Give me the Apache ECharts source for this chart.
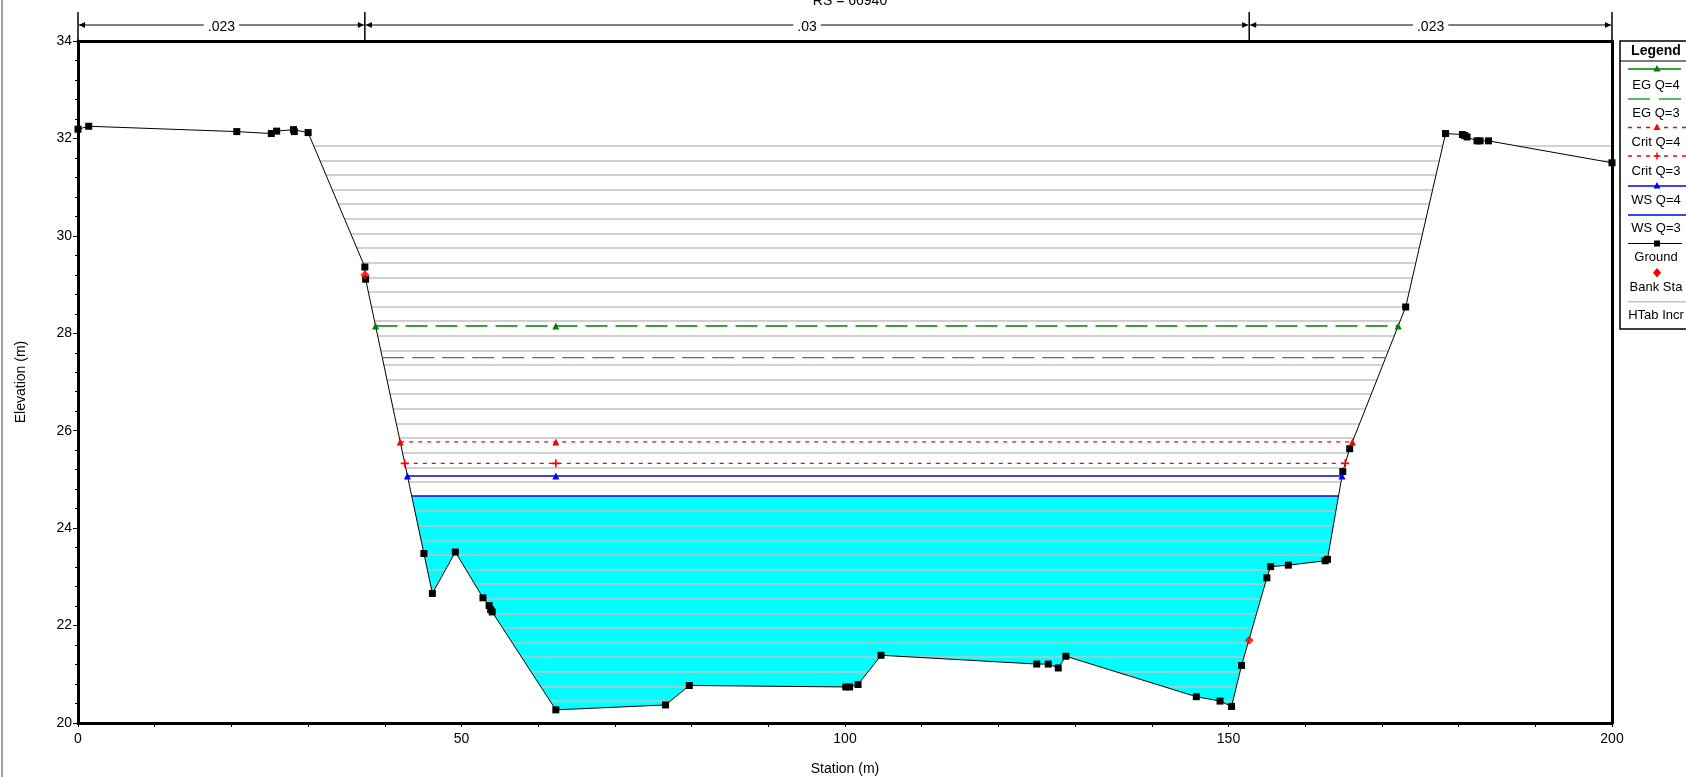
<!DOCTYPE html>
<html><head><meta charset="utf-8">
<script src="https://cdn.jsdelivr.net/npm/echarts@6/dist/echarts.min.js"></script>
<style>html,body{margin:0;padding:0;background:#fff;}#chart{width:1686px;height:777px;}</style>
</head><body><div id="chart"></div>
<script>
// ---------------- data ----------------
const groundStation = [0, 1.4, 20.7, 25.2, 25.9, 28.1, 28.2, 30.0, 37.4, 37.5, 45.1, 46.2, 49.2, 52.8, 53.6, 53.8, 54.0, 62.3, 76.6, 79.7, 100.1, 100.6, 101.7, 104.7, 125.0, 126.5, 127.8, 128.8, 145.8, 148.9, 150.4, 151.7, 155.0, 155.5, 157.8, 162.6, 162.9, 164.9, 165.8, 173.1, 178.3, 180.5, 180.8, 181.1, 182.4, 182.8, 183.9, 200];
const groundElev = [32.19, 32.25, 32.14, 32.10, 32.15, 32.18, 32.14, 32.12, 29.36, 29.11, 23.48, 22.66, 23.51, 22.57, 22.41, 22.33, 22.28, 20.27, 20.37, 20.77, 20.74, 20.74, 20.79, 21.39, 21.21, 21.21, 21.13, 21.37, 20.54, 20.45, 20.34, 21.18, 22.98, 23.21, 23.24, 23.33, 23.36, 25.16, 25.63, 28.54, 32.10, 32.08, 32.06, 32.03, 31.95, 31.95, 31.95, 31.50];
const bankStation = [37.4, 152.7];
const bankElev = [29.2, 21.7];
const nBreaks = [0, 37.4, 152.7, 200];
const nValues = ['.023', '.03', '.023'];
const profileNames = ['EG Q=4', 'EG Q=3', 'Crit Q=4', 'Crit Q=3', 'WS Q=4', 'WS Q=3'];
const profileElev = [28.15, 27.50, 25.77, 25.33, 25.07, 24.66];
const htabElev = [20.45, 20.75, 21.05, 21.35, 21.65, 21.95, 22.25, 22.55, 22.85, 23.15, 23.45, 23.75, 24.05, 24.35, 24.65, 24.95, 25.25, 25.55, 25.85, 26.15, 26.45, 26.75, 27.05, 27.35, 27.65, 27.95, 28.25, 28.55, 28.85, 29.15, 29.45, 29.75, 30.05, 30.35, 30.65, 30.95, 31.25, 31.55, 31.85];
const titleText = 'RS = 66940';
const xName = 'Station (m)';
const yName = 'Elevation (m)';
const xMin = 0, xMax = 200, xStep = 50;
const yMin = 20, yMax = 34, yStep = 2;

// ---------------- helpers ----------------
const FONT = 'Liberation Sans, Arial, sans-serif';
const nG = groundStation.length;
const imin = groundElev.indexOf(Math.min(...groundElev));
const thalwegX = groundStation[imin];
function crossings(e) {
  let xl = groundStation[0], xr = groundStation[nG - 1];
  for (let i = imin; i > 0; i--) {
    if (groundElev[i - 1] >= e) {
      const x0 = groundStation[i - 1], y0 = groundElev[i - 1], x1 = groundStation[i], y1 = groundElev[i];
      xl = x0 + (e - y0) / (y1 - y0) * (x1 - x0); break;
    }
  }
  for (let i = imin; i < nG - 1; i++) {
    if (groundElev[i + 1] >= e) {
      const x0 = groundStation[i], y0 = groundElev[i], x1 = groundStation[i + 1], y1 = groundElev[i + 1];
      xr = x0 + (e - y0) / (y1 - y0) * (x1 - x0); break;
    }
  }
  return [xl, xr];
}
const plusPath = 'path://M4,0L6,0L6,4L10,4L10,6L6,6L6,10L4,10L4,6L0,6L0,4L4,4Z';
const profStyle = {
  'EG Q=4':   { color: '#008000', type: [22, 8], width: 1.6, symbol: 'triangle' },
  'EG Q=3':   { color: '#1f9a1f', type: [22, 8], width: 1.4, symbol: 'none' },
  'Crit Q=4': { color: '#ff0000', type: [4, 5], width: 1.4, symbol: 'triangle' },
  'Crit Q=3': { color: '#ff0000', type: [4, 5], width: 1.4, symbol: plusPath },
  'WS Q=4':   { color: '#0000ff', type: 'solid', width: 1.6, symbol: 'triangle' },
  'WS Q=3':   { color: '#0000ff', type: 'solid', width: 1.6, symbol: 'none' }
};

const ground = groundStation.map((x, i) => [x, groundElev[i]]);
const wsLow = profileElev[profileNames.indexOf('WS Q=3')];
const wsLowX = crossings(wsLow);

const series = [];
// water fill (WS Q=3)
series.push({
  name: 'water', type: 'line', z: 1, silent: true, showSymbol: false, symbol: 'none',
  data: [[wsLowX[0], wsLow], [wsLowX[1], wsLow]],
  lineStyle: { width: 0 },
  areaStyle: { color: '#00ffff', opacity: 1, origin: 'start' }
});
// HTab increments
series.push({
  name: 'HTab Incr', type: 'lines', coordinateSystem: 'cartesian2d', z: 2, silent: true,
  data: htabElev.map(e => ({ coords: [[xMin, e], [xMax, e]] })),
  lineStyle: { color: '#c2c2c2', width: 1.7, opacity: 1 }
});
// ground with white mask below
series.push({
  name: 'Ground', type: 'line', z: 3, data: ground,
  symbol: 'rect', symbolSize: 7, showAllSymbol: true,
  itemStyle: { color: '#000' },
  lineStyle: { color: '#000', width: 1 },
  areaStyle: { color: '#ffffff', opacity: 1, origin: 'start' }
});
// profiles
profileNames.forEach((nm, k) => {
  const e = profileElev[k];
  const st = profStyle[nm];
  const [l, r] = crossings(e);
  const data = st.symbol === 'none' ? [[l, e], [r, e]] : [[l, e], [thalwegX, e], [r, e]];
  series.push({
    name: nm, type: 'line', z: 4, data: data,
    symbol: st.symbol, symbolSize: st.symbol === 'triangle' ? 7 : 8, showSymbol: st.symbol !== 'none',
    itemStyle: { color: st.color },
    lineStyle: { color: st.color, width: st.width, type: st.type }
  });
});
// bank stations
series.push({
  name: 'Bank Sta', type: 'scatter', z: 5, symbol: 'diamond', symbolSize: 9,
  data: bankStation.map((x, i) => [x, bankElev[i]]),
  itemStyle: { color: '#ff0000' }
});

const axisCommon = {
  axisLine: { show: true, onZero: false, lineStyle: { color: '#000', width: 3 } },
  splitLine: { show: false },
  z: 10
};
const option = {
  animation: false,
  backgroundColor: '#ffffff',
  title: {
    text: titleText, left: 845, top: -11, textAlign: 'center',
    textStyle: { fontSize: 14, fontWeight: 'normal', color: '#000', fontFamily: FONT }
  },
  grid: { left: 78, right: 74, top: 41, bottom: 54, containLabel: false, outerBoundsMode: 'none' },
  xAxis: [
    Object.assign({}, axisCommon, {
      type: 'value', min: xMin, max: xMax, interval: xStep, position: 'bottom',
      axisTick: { show: true, length: 4, lineStyle: { color: '#000', width: 1 } },
      minorTick: { show: true, splitNumber: 5, length: 4, lineStyle: { color: '#000', width: 1 } },
      axisLabel: { color: '#000', fontSize: 14, fontFamily: FONT, margin: 9 },
      name: xName, nameLocation: 'middle', nameGap: 39,
      nameTextStyle: { color: '#000', fontSize: 14, fontFamily: FONT }
    }),
    Object.assign({}, axisCommon, {
      type: 'value', min: xMin, max: xMax, position: 'top',
      axisTick: { show: false }, axisLabel: { show: false }
    })
  ],
  yAxis: [
    Object.assign({}, axisCommon, {
      type: 'value', min: yMin, max: yMax, interval: yStep, position: 'left',
      axisTick: { show: true, length: 5, lineStyle: { color: '#000', width: 1 } },
      minorTick: { show: true, splitNumber: 5, length: 3, lineStyle: { color: '#000', width: 1 } },
      axisLabel: { color: '#000', fontSize: 14, fontFamily: FONT, margin: 6 },
      name: yName, nameLocation: 'middle', nameGap: 50, nameRotate: 90,
      nameTextStyle: { color: '#000', fontSize: 14, fontFamily: FONT }
    }),
    Object.assign({}, axisCommon, {
      type: 'value', min: yMin, max: yMax, position: 'right',
      axisTick: { show: false }, axisLabel: { show: false }
    })
  ],
  series: series
};

const chart = echarts.init(document.getElementById('chart'), null, { renderer: 'canvas' });
chart.setOption(option);

// ---------------- graphic overlays (Manning's n bar, legend, frame) ----------------
const px = x => chart.convertToPixel({ xAxisIndex: 0 }, x);
const g = [];
const Z = 100;
// window frame edge
g.push({ type: 'rect', z: Z, shape: { x: 1, y: 0, width: 2, height: 777 }, style: { fill: '#a0a0a0' } });
// Manning's n bar
const barY = 25, tickTop = 12, plotTop = 41;
nBreaks.forEach(b => {
  const x = px(b);
  g.push({ type: 'line', z: Z, shape: { x1: x, y1: tickTop, x2: x, y2: plotTop }, style: { stroke: '#000', lineWidth: 1.5 } });
});
for (let i = 0; i < nValues.length; i++) {
  const a = px(nBreaks[i]), b = px(nBreaks[i + 1]);
  g.push({ type: 'line', z: Z, shape: { x1: a + 1, y1: barY, x2: b - 1, y2: barY }, style: { stroke: '#000', lineWidth: 1.2 } });
  g.push({ type: 'polygon', z: Z, shape: { points: [[a + 1, barY], [a + 7, barY - 3], [a + 7, barY + 3]] }, style: { fill: '#000' } });
  g.push({ type: 'polygon', z: Z, shape: { points: [[b - 1, barY], [b - 7, barY - 3], [b - 7, barY + 3]] }, style: { fill: '#000' } });
  g.push({ type: 'text', z: Z + 1, x: (a + b) / 2, y: barY + 2,
    style: { text: nValues[i], fill: '#000', font: '14px ' + FONT, align: 'center', verticalAlign: 'middle',
      backgroundColor: '#fff', padding: [0, 4] } });
}
// legend box
const LX = 1620, LC = 1656;
g.push({ type: 'rect', z: Z, shape: { x: LX, y: 41, width: 90, height: 288 }, style: { fill: '#fff', stroke: '#000', lineWidth: 1.5 } });
g.push({ type: 'text', z: Z, x: LC, y: 51, style: { text: 'Legend', fill: '#000', font: 'bold 14px ' + FONT, align: 'center', verticalAlign: 'middle' } });
g.push({ type: 'line', z: Z, shape: { x1: LX, y1: 61, x2: 1686, y2: 61 }, style: { stroke: '#000', lineWidth: 1.2 } });
function tri(cx, cy, col) {
  return { type: 'polygon', z: Z + 1, shape: { points: [[cx, cy - 4], [cx - 3.5, cy + 2.5], [cx + 3.5, cy + 2.5]] }, style: { fill: col } };
}
function lbl(text, y) {
  return { type: 'text', z: Z, x: LC, y: y, style: { text: text, fill: '#000', font: '13px ' + FONT, align: 'center', verticalAlign: 'middle' } };
}
const legY = { 'EG Q=4': [69, 85], 'EG Q=3': [99, 113], 'Crit Q=4': [127.5, 142], 'Crit Q=3': [156, 171], 'WS Q=4': [186, 200], 'WS Q=3': [215, 228.5] };
profileNames.forEach(nm => {
  const st = profStyle[nm];
  const [ly, ty] = legY[nm];
  if (nm === 'EG Q=3') {
    g.push({ type: 'line', z: Z, shape: { x1: 1628, y1: ly, x2: 1650, y2: ly }, style: { stroke: st.color, lineWidth: st.width } });
    g.push({ type: 'line', z: Z, shape: { x1: 1659, y1: ly, x2: 1681, y2: ly }, style: { stroke: st.color, lineWidth: st.width } });
  } else {
    const dash = Array.isArray(st.type) ? st.type : null;
    const x2 = nm === 'EG Q=4' ? 1681 : 1686;
    g.push({ type: 'line', z: Z, shape: { x1: 1628, y1: ly, x2: x2, y2: ly }, style: { stroke: st.color, lineWidth: st.width, lineDash: (nm === 'EG Q=4') ? null : dash } });
  }
  if (st.symbol === 'triangle') g.push(tri(1657, ly, st.color));
  if (st.symbol === plusPath) {
    g.push({ type: 'line', z: Z + 1, shape: { x1: 1653.5, y1: ly, x2: 1660.5, y2: ly }, style: { stroke: st.color, lineWidth: 1.4 } });
    g.push({ type: 'line', z: Z + 1, shape: { x1: 1657, y1: ly - 3.5, x2: 1657, y2: ly + 3.5 }, style: { stroke: st.color, lineWidth: 1.4 } });
  }
  g.push(lbl(nm, ty));
});
// ground legend
g.push({ type: 'line', z: Z, shape: { x1: 1628, y1: 243.5, x2: 1682, y2: 243.5 }, style: { stroke: '#000', lineWidth: 1 } });
g.push({ type: 'rect', z: Z + 1, shape: { x: 1654, y: 240.5, width: 6, height: 6 }, style: { fill: '#000' } });
g.push(lbl('Ground', 257));
// bank sta legend
g.push({ type: 'polygon', z: Z + 1, shape: { points: [[1657, 268], [1661, 272.7], [1657, 277.4], [1653, 272.7]] }, style: { fill: '#ff0000' } });
g.push(lbl('Bank Sta', 287));
// HTab legend
g.push({ type: 'line', z: Z, shape: { x1: 1628, y1: 301.7, x2: 1686, y2: 301.7 }, style: { stroke: '#c6c6c6', lineWidth: 1.6 } });
g.push(lbl('HTab Incr', 315));

chart.setOption({ graphic: g });
</script></body></html>
